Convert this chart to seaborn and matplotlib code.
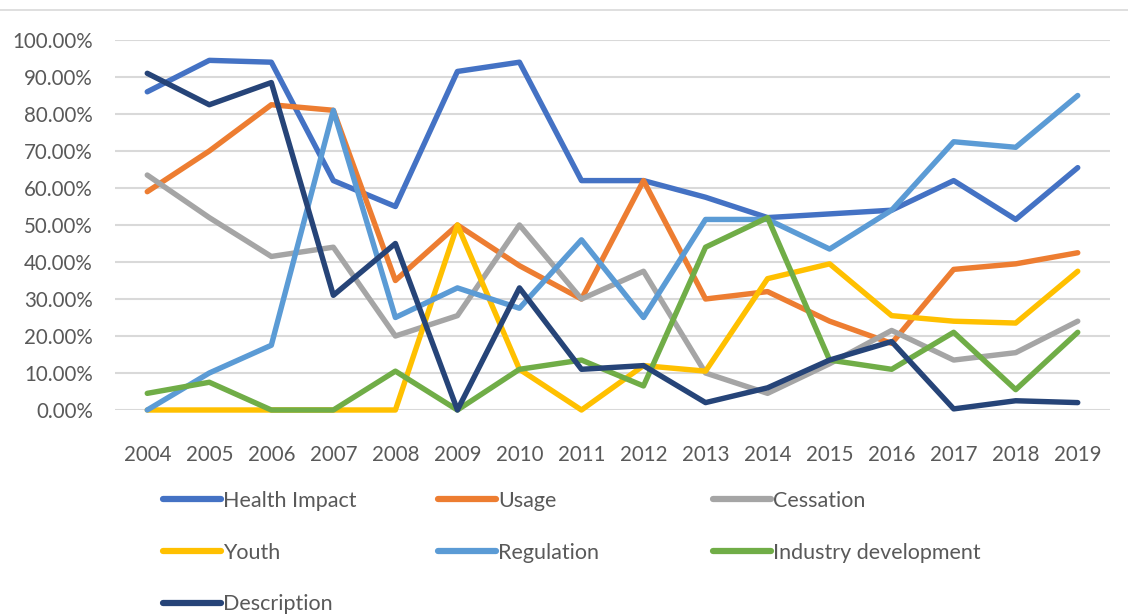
import matplotlib
matplotlib.use("Agg")
import matplotlib.pyplot as plt
import seaborn as sns
import pandas as pd
from matplotlib.lines import Line2D

years = [str(y) for y in range(2004, 2020)]

health_impact = [86, 94.5, 94, 62, 55, 91.5, 94, 62, 62, 57.5, 52, 53, 54, 62, 51.5, 65.5]
usage = [59, 70, 82.5, 81, 35, 50, 39, 30, 62, 30, 32, 24, 18, 38, 39.5, 42.5]
cessation = [63.5, 52, 41.5, 44, 20, 25.5, 50, 30, 37.5, 10, 4.5, 12.5, 21.5, 13.5, 15.5, 24]
youth = [0, 0, 0, 0, 0, 50, 11, 0, 12, 10.5, 35.5, 39.5, 25.5, 24, 23.5, 37.5]
regulation = [0, 10, 17.5, 81, 25, 33, 27.5, 46, 25, 51.5, 51.5, 43.5, 54, 72.5, 71, 85]
industry = [4.5, 7.5, 0, 0, 10.5, 0, 11, 13.5, 6.5, 44, 52, 13.5, 11, 21, 5.5, 21]
description = [91, 82.5, 88.5, 31, 45, 0, 33, 11, 12, 2, 6, 13.5, 18.5, 0.3, 2.5, 2]

series = {
    "Health Impact": health_impact,
    "Usage": usage,
    "Cessation": cessation,
    "Youth": youth,
    "Regulation": regulation,
    "Industry development": industry,
    "Description": description,
}
colors = ["#4472C4", "#ED7D31", "#A5A5A5", "#FFC000", "#5B9BD5", "#70AD47", "#264478"]
palette = dict(zip(series.keys(), colors))

df = pd.DataFrame(series)
df["year"] = years
long = df.melt(id_vars="year", var_name="topic", value_name="share")
long["share"] = long["share"] / 100

sns.set_style("white")
plt.rcParams["font.family"] = ["Lato", "DejaVu Sans"]
text_color = "#595959"

fig = plt.figure(figsize=(11.28, 6.14), dpi=100)
ax = fig.add_axes([115 / 1128, 1 - 410 / 614, (1110 - 115) / 1128, 370 / 614])

sns.lineplot(data=long, x="year", y="share", hue="topic", hue_order=list(series.keys()),
             palette=palette, linewidth=3.9, ax=ax, legend=False, sort=False,
             solid_capstyle="round", zorder=3)
for ln in ax.lines:
    ln.set_clip_on(False)

ax.set_ylim(0, 1.0)
ax.set_xlim(-0.52, len(years) - 0.48)
ax.set_yticks([i / 10 for i in range(11)])
ax.set_yticklabels([f"{i * 10:.2f}%" for i in range(11)])
ax.yaxis.grid(True, color="#D9D9D9", linewidth=1.5, zorder=0)
ax.xaxis.grid(False)
for s in ax.spines.values():
    s.set_visible(False)
ax.tick_params(axis="both", length=0, labelsize=14.8, colors=text_color)
ax.tick_params(axis="x", pad=25)
ax.tick_params(axis="y", pad=16)
ax.set_xlabel("")
ax.set_ylabel("")

# top border line
fig.add_artist(Line2D([0, 1], [1 - 9.5 / 614, 1 - 9.5 / 614], color="#D9D9D9", linewidth=1.2))

# legend laid out row-wise in three columns
names = list(series.keys())
columns = [[0, 3, 6], [1, 4], [2, 5]]
col_x = [163, 438, 713]
for cx, idx in zip(col_x, columns):
    handles = [Line2D([], [], color=colors[i], linewidth=4.5, solid_capstyle="round") for i in idx]
    fig.legend(handles, [names[i] for i in idx], loc="upper left",
               bbox_to_anchor=(cx / 1128, 1 - 491 / 614), frameon=False,
               fontsize=15.5, handlelength=2.7, handletextpad=0.1,
               labelspacing=1.47, borderpad=0, borderaxespad=0, labelcolor=text_color)

fig.savefig("out.png", dpi=100)
